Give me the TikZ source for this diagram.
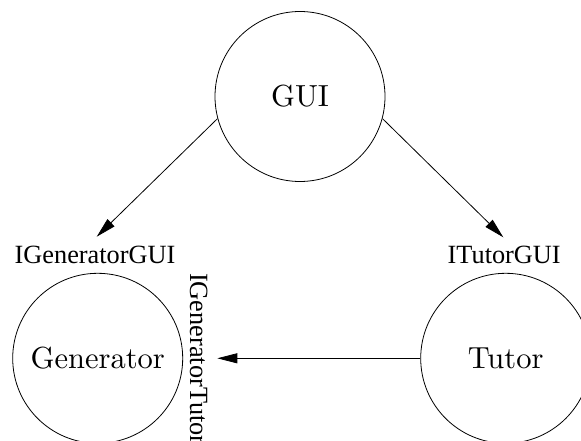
\documentclass[tikz,border=0pt]{standalone}
\usepackage{fontspec}
\newfontfamily\ifacefont{Liberation Serif}
\newfontfamily\compfont{lmroman10-regular.otf}
\usetikzlibrary{arrows.meta}
\begin{document}
\begin{tikzpicture}[x=1pt,y=-1pt,
  comp/.style={circle, draw, line width=0.8pt, minimum size=170pt, inner sep=0pt,
    font=\compfont\fontsize{30.5}{36}\selectfont},
  iface/.style={inner sep=0pt, anchor=base,
    font=\ifacefont\fontsize{26.3}{30}\selectfont},
  arr/.style={-{Triangle[length=20pt,width=10pt]}, line width=0.8pt}]
\clip (0,0) rectangle (581,441);

% components
\node[comp] (gui) at (300,96.5) {GUI};
\node[comp] (gen) at (97.7,358.3) {Generator};
\node[comp] (tut) at (505.7,358.3) {Tutor};

% provided interfaces
\node[iface] (igengui) at (95,263.3) {IGeneratorGUI};
\node[iface] (itutgui) at (504.2,263.3) {ITutorGUI};
\node[iface, anchor=base west, rotate=-90] (igentut) at (190,273) {IGeneratorTutor};

% arrow ends just above the interface labels
\coordinate (gengui-in) at (96.7,236.7);
\coordinate (tutgui-in) at (503.3,237.3);
\coordinate (gentut-in) at (217.3,358.3);

% dependencies
\draw[arr] (gui.195) -- (gengui-in);
\draw[arr] (gui.345) -- (tutgui-in);
\draw[arr] (tut.west) -- (gentut-in);
\end{tikzpicture}
\end{document}
